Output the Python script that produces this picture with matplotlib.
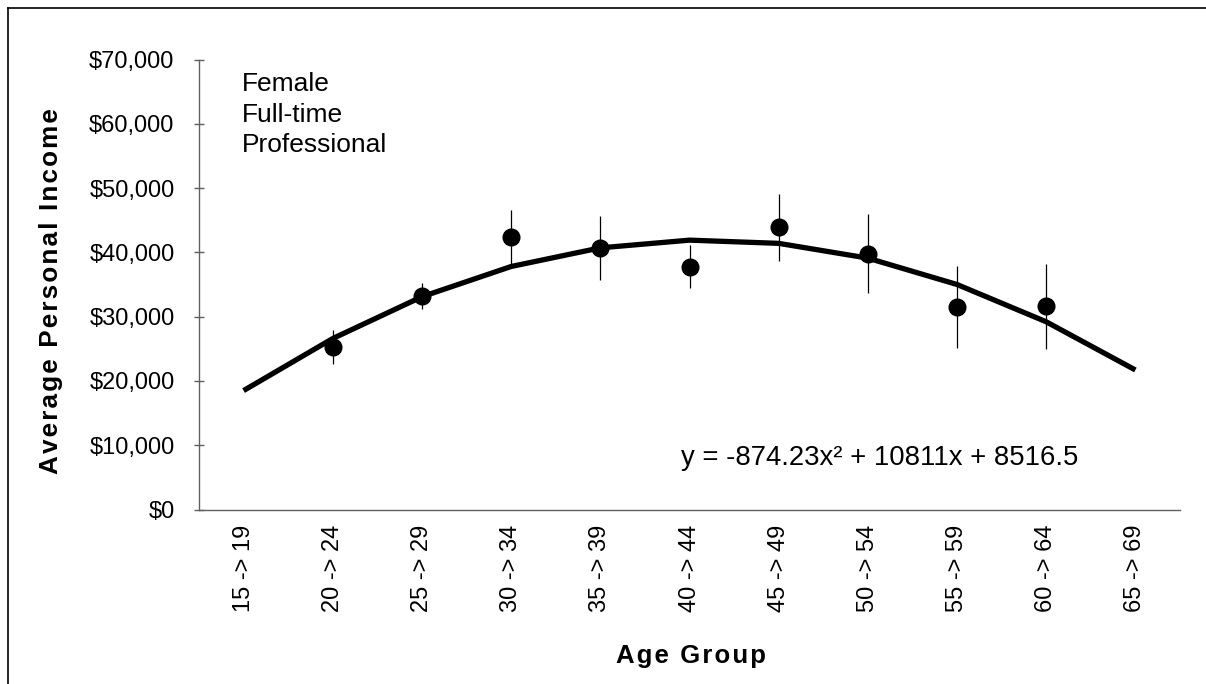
import numpy as np
import matplotlib
matplotlib.use("Agg")
import matplotlib.pyplot as plt
from matplotlib.ticker import FuncFormatter

# age groups on the category axis
age_groups = ['15 -> 19', '20 -> 24', '25 -> 29', '30 -> 34', '35 -> 39', '40 -> 44',
              '45 -> 49', '50 -> 54', '55 -> 59', '60 -> 64', '65 -> 69']

# average personal income per group (no data for first and last group)
income = [np.nan, 25300, 33200, 42400, 40700, 37800, 43900, 39800, 31500, 31600, np.nan]
# half length of the error bars
income_err = [np.nan, 2700, 2000, 4200, 4950, 3300, 5200, 6100, 6350, 6600, np.nan]

trend = [18500, 26600, 33100, 37800, 40700, 41900, 41400, 39100, 35000, 29200, 21700]

trend_label = 'y = -874.23x\u00b2 + 10811x + 8516.5'
note_lines = ['Female', 'Full-time', 'Professional']

plt.rcParams['font.family'] = ['Liberation Sans', 'DejaVu Sans']

W, H = 1206, 684
fig = plt.figure(figsize=(W / 100, H / 100), dpi=100)
ax = fig.add_axes([199 / W, 1 - 509.5 / H, (1180 - 199) / W, (509.5 - 59.5) / H])

x = np.arange(1, len(age_groups) + 1)
axis_grey = '#606060'

ax.errorbar(x, income, yerr=income_err, fmt='none', ecolor='black', elinewidth=0.9,
            capsize=0, zorder=2)
ax.plot(x, trend, color='black', lw=3.8, solid_capstyle='butt', zorder=3)
ax.plot(x, income, 'o', color='black', markersize=12, zorder=4)

ax.set_xlim(0.5, 11.5)
ax.set_ylim(0, 70000)
ax.set_yticks(np.arange(0, 70001, 10000))
ax.yaxis.set_major_formatter(FuncFormatter(lambda v, p: '${:,.0f}'.format(v)))
ax.set_xticks(x)
ax.set_xticklabels(age_groups, rotation=90, va='top', ha='center')

for s in ['top', 'right']:
    ax.spines[s].set_visible(False)
for s in ['left', 'bottom']:
    ax.spines[s].set_color(axis_grey)
    ax.spines[s].set_linewidth(1.0)

ax.tick_params(axis='y', direction='inout', length=7.2, width=1.0, color=axis_grey,
               labelsize=17, pad=14)
ax.tick_params(axis='x', length=0, labelsize=17, pad=11)

# letter-spaced bold axis titles
hair = '\u200a'
def spaced(t):
    return hair.join(t)

fig.text(51 / W, 1 - 291 / H, spaced('Average Personal Income'), rotation=90,
         ha='center', va='center', fontsize=18.8, fontweight='bold')
fig.text(691 / W, 1 - 656 / H, spaced('Age Group'), ha='center', va='center',
         fontsize=18.5, fontweight='bold')

# last line baseline sits at ~152 px
fig.text(242 / W, 1 - 152.5 / H, '\n'.join(note_lines), ha='left', va='baseline',
         fontsize=19, linespacing=1.35)
fig.text(681 / W, 1 - 465 / H, trend_label, ha='left', va='baseline', fontsize=19.8)

# outer frame of the chart area
fig.add_artist(plt.Line2D([8 / W, 8 / W], [0, 1 - 8 / H], color='black', lw=1.2,
                          transform=fig.transFigure))
fig.add_artist(plt.Line2D([8 / W, 1], [1 - 8 / H, 1 - 8 / H], color='black', lw=1.2,
                          transform=fig.transFigure))

fig.savefig('out.png', dpi=100)
